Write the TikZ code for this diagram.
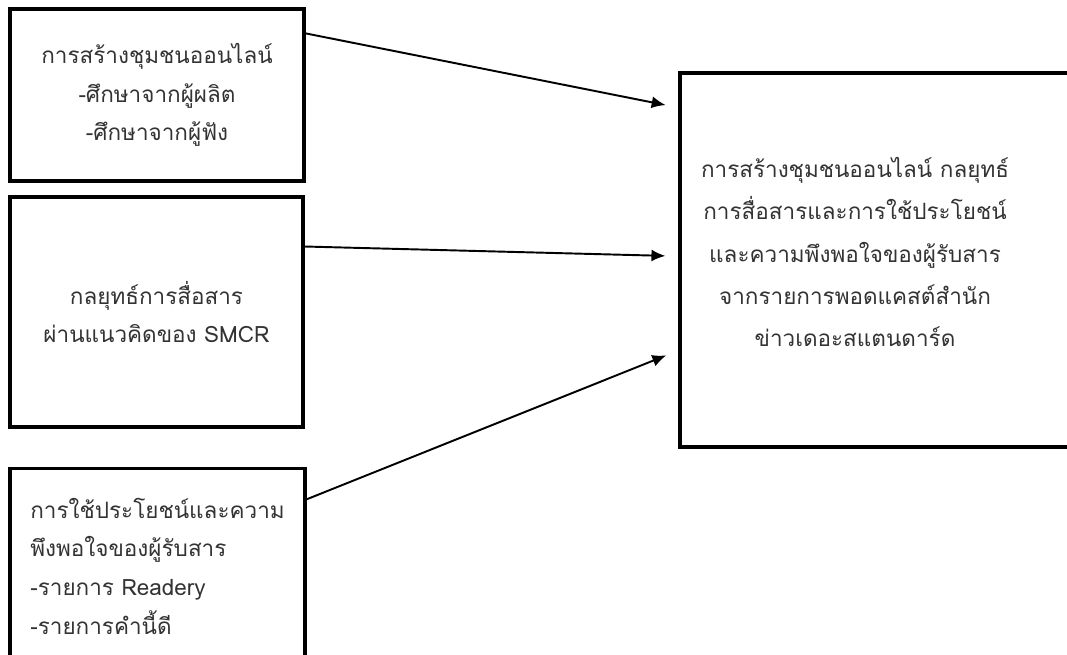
\documentclass[tikz,border=0pt]{standalone}
\usepackage{fontspec}
\newfontfamily\thaifont[Script=Thai]{Loma}
\usepackage{tikz}
\usetikzlibrary{calc}
\usetikzlibrary{arrows.meta}

\tikzset{
  box/.style={draw=black,line width=2.2pt,rectangle,inner sep=0pt,
    text=black!80,font=\thaifont\fontsize{12.8}{22}\selectfont},
  arr/.style={line width=1.1pt,-{Latex[length=0.28cm,width=0.24cm]}},
}

\begin{document}
\begin{tikzpicture}[x=0.02cm,y=-0.02cm]
        \useasboundingbox (0,0) rectangle (1067,655);
        \node[box,minimum width=294*0.02cm,minimum height=172*0.02cm,align=center] (b1) at (157,95)
          {การสร้างชุมชนออนไลน์\\-ศึกษาจากผู้ผลิต\\-ศึกษาจากผู้ฟัง};
        \node[box,minimum width=293*0.02cm,minimum height=230*0.02cm,align=center] (b2) at (156.5,312)
          {กลยุทธ์การสื่อสาร\\ผ่านแนวคิดของ SMCR};
        \node[box,minimum width=295*0.02cm,minimum height=195*0.02cm,align=left] (b3) at (157.5,566)
          {การใช้ประโยชน์และความ\\พึงพอใจของผู้รับสาร\\-รายการ Readery\\-รายการคำนี้ดี};
        \node[box,line width=1.8pt,minimum width=396*0.02cm,minimum height=374*0.02cm] (res) at (878,260) {};
        \node[text=black!80,font=\thaifont\fontsize{12.8}{24}\selectfont,align=center] (restext) at (855,252)
          {การสร้างชุมชนออนไลน์ กลยุทธ์\\การสื่อสารและการใช้ประโยชน์\\และความพึงพอใจของผู้รับสาร\\จากรายการพอดแคสต์สำนัก\\ข่าวเดอะสแตนดาร์ด};
        \draw[arr,shorten >=0.26cm] ($(b1.north east)!0.15!(b1.south east)$)--($(res.north west)!0.096!(res.south west)$);
        \draw[arr,shorten >=0.26cm] ($(b2.north east)!0.22!(b2.south east)$)--($(res.north west)!0.49!(res.south west)$);
        \draw[arr,shorten >=0.26cm] ($(b3.north east)!0.164!(b3.south east)$)--($(res.north west)!0.74!(res.south west)$);
    \end{tikzpicture}
\end{document}
